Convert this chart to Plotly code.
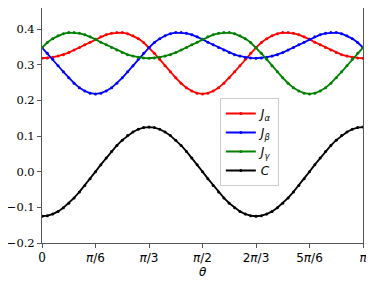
import plotly.graph_objects as go

# x grid: 0 .. 180 degrees (0 .. π) in 3-degree steps (61 samples)
theta_deg = list(range(0, 181, 3))

J_alpha = [0.318, 0.319, 0.321, 0.324, 0.328, 0.334, 0.341, 0.348, 0.356, 0.363,
           0.371, 0.378, 0.384, 0.388, 0.390, 0.390, 0.387, 0.381, 0.373, 0.362,
           0.348, 0.332, 0.315, 0.297, 0.280, 0.263, 0.248, 0.235, 0.226, 0.220,
           0.218, 0.220, 0.226, 0.235, 0.248, 0.263, 0.280, 0.297, 0.315, 0.332,
           0.348, 0.362, 0.373, 0.381, 0.387, 0.390, 0.390, 0.388, 0.384, 0.378,
           0.371, 0.363, 0.356, 0.348, 0.341, 0.334, 0.328, 0.324, 0.321, 0.319,
           0.318]

J_beta = [0.348, 0.332, 0.315, 0.297, 0.280, 0.263, 0.248, 0.235, 0.226, 0.220,
          0.218, 0.220, 0.226, 0.235, 0.248, 0.263, 0.280, 0.297, 0.315, 0.332,
          0.348, 0.362, 0.373, 0.381, 0.387, 0.390, 0.390, 0.388, 0.384, 0.378,
          0.371, 0.363, 0.356, 0.348, 0.341, 0.334, 0.328, 0.324, 0.321, 0.319,
          0.318, 0.319, 0.321, 0.324, 0.328, 0.334, 0.341, 0.348, 0.356, 0.363,
          0.371, 0.378, 0.384, 0.388, 0.390, 0.390, 0.387, 0.381, 0.373, 0.362,
          0.348]

J_gamma = [0.348, 0.362, 0.373, 0.381, 0.387, 0.390, 0.390, 0.388, 0.384, 0.378,
           0.371, 0.363, 0.356, 0.348, 0.341, 0.334, 0.328, 0.324, 0.321, 0.319,
           0.318, 0.319, 0.321, 0.324, 0.328, 0.334, 0.341, 0.348, 0.356, 0.363,
           0.371, 0.378, 0.384, 0.388, 0.390, 0.390, 0.387, 0.381, 0.373, 0.362,
           0.348, 0.332, 0.315, 0.297, 0.280, 0.263, 0.248, 0.235, 0.226, 0.220,
           0.218, 0.220, 0.226, 0.235, 0.248, 0.263, 0.280, 0.297, 0.315, 0.332,
           0.348]

C_vals = [-0.125, -0.1235, -0.1189, -0.1114, -0.1011, -0.0884, -0.0735, -0.0568, -0.0386, -0.0196,
          0.0, 0.0196, 0.0386, 0.0568, 0.0735, 0.0884, 0.1011, 0.1114, 0.1189, 0.1235,
          0.125, 0.1235, 0.1189, 0.1114, 0.1011, 0.0884, 0.0735, 0.0568, 0.0386, 0.0196,
          0.0, -0.0196, -0.0386, -0.0568, -0.0735, -0.0884, -0.1011, -0.1114, -0.1189, -0.1235,
          -0.125, -0.1235, -0.1189, -0.1114, -0.1011, -0.0884, -0.0735, -0.0568, -0.0386, -0.0196,
          0.0, 0.0196, 0.0386, 0.0568, 0.0735, 0.0884, 0.1011, 0.1114, 0.1189, 0.1235,
          0.125]

x_tick_vals = [0, 30, 60, 90, 120, 150, 180]
x_tick_labels = ['<span style="font-family:DejaVu Serif">0</span>',
                 "<i>π</i>/6", "<i>π</i>/3", "<i>π</i>/2",
                 "2<i>π</i>/3", "5<i>π</i>/6", "<i>π</i>"]
y_tick_vals = [-0.2, -0.1, 0.0, 0.1, 0.2, 0.3, 0.4]
y_tick_labels = ["−0.2", "−0.1", "0.0", "0.1", "0.2", "0.3", "0.4"]

series = [
    ("<i>J<sub>α</sub></i>", J_alpha, "#ff0000"),
    ("<i>J<sub>β</sub></i>", J_beta, "#0000ff"),
    ("<i>J<sub>γ</sub></i>", J_gamma, "#008000"),
    ("<i>C</i>", C_vals, "#000000"),
]

fig = go.Figure()
for name, ys, col in series:
    fig.add_trace(go.Scatter(
        x=theta_deg, y=ys, name=name, mode="lines+markers",
        line=dict(color=col, width=1.8),
        marker=dict(color=col, size=3),
    ))

axis_common = dict(
    showgrid=False, zeroline=False, showline=True, linecolor="#555555",
    linewidth=1, mirror=True, ticks="outside", ticklen=4, tickcolor="#555555",
    automargin=False, ticklabeloverflow="allow",
)

fig.update_xaxes(
    range=[0, 180], tickvals=x_tick_vals, ticktext=x_tick_labels,
    tickfont=dict(family="DejaVu Sans", size=12, color="#000000"),
    **axis_common,
)
fig.update_yaxes(
    range=[-0.2, 0.4589], tickvals=y_tick_vals, ticktext=y_tick_labels,
    tickfont=dict(family="DejaVu Serif", size=11.5, color="#000000"),
    **axis_common,
)

fig.add_annotation(
    text="<i>θ</i>", xref="paper", yref="paper", x=0.5, y=-0.125,
    xanchor="center", yanchor="middle", showarrow=False,
    font=dict(family="DejaVu Sans", size=12, color="#000000"),
)

# The page body has an 8px default margin, so the figure is sized to fit after it.
fig.update_layout(
    width=366, height=273,
    margin=dict(l=34, r=11, t=0, b=38),
    paper_bgcolor="white", plot_bgcolor="white",
    showlegend=True,
    legend=dict(
        x=0.554, y=0.617, xanchor="left", yanchor="top",
        bgcolor="rgba(255,255,255,0.8)", bordercolor="#cccccc", borderwidth=1,
        font=dict(family="DejaVu Sans", size=12, color="#000"),
        itemwidth=30, tracegroupgap=0,
    ),
    font=dict(family="DejaVu Sans", size=12),
)

fig.write_html("out.html")
